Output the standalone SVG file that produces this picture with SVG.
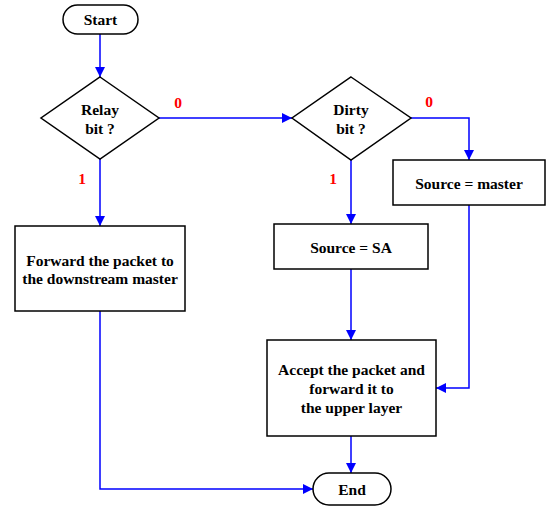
<svg xmlns="http://www.w3.org/2000/svg" width="547" height="506" viewBox="0 0 547 506">
  <style>
    .shape { fill: #ffffff; stroke: #000000; stroke-width: 1.5; }
    text { font-family: 'Liberation Serif', 'DejaVu Serif', serif; font-weight: bold; font-size: 15.5px; text-anchor: middle; dominant-baseline: central; }
    .label { fill: #000000; }
    .branch { fill: #ff0000; }
    .flow { fill: none; stroke: #0000ff; stroke-width: 1.5; marker-end: url(#arrow); }
  </style>
  <defs>
    <marker id="arrow" viewBox="0 0 10 10" refX="10" refY="5" markerWidth="10" markerHeight="10" markerUnits="userSpaceOnUse" orient="auto">
      <path d="M0,0 L10,5 L0,10 z" fill="#0000ff"/>
    </marker>
  </defs>
  <rect width="547" height="506" fill="#ffffff"/>

  <g id="connectors">
    <path class="flow" d="M100,34 V77"/>
    <path class="flow" d="M159,118 H292"/>
    <path class="flow" d="M100,159 V226"/>
    <path class="flow" d="M411,118 H469 V160"/>
    <path class="flow" d="M351,160 V224"/>
    <path class="flow" d="M351,269 V340"/>
    <path class="flow" d="M469,205 V388 H436"/>
    <path class="flow" d="M351,436 V473"/>
    <path class="flow" d="M100,311 V489 H313"/>
  </g>

  <g id="branch-labels" font-family="Liberation Serif, serif">
    <text class="branch" x="178" y="102">0</text>
    <text class="branch" x="82" y="178">1</text>
    <text class="branch" x="429" y="101">0</text>
    <text class="branch" x="333" y="178">1</text>
  </g>

  <g id="start">
    <rect class="shape" x="63" y="5" width="75" height="29" rx="14.5"/>
    <text class="label" x="100.5" y="19.5">Start</text>
  </g>

  <g id="relay-bit">
    <polygon class="shape" points="100,77 159,118 100,159 41,118"/>
    <text class="label" x="100" y="109">Relay</text>
    <text class="label" x="100" y="128">bit ?</text>
  </g>

  <g id="dirty-bit">
    <polygon class="shape" points="351,77 411,118 351,160 292,118"/>
    <text class="label" x="351" y="109">Dirty</text>
    <text class="label" x="351" y="128">bit ?</text>
  </g>

  <g id="source-master">
    <rect class="shape" x="393" y="160" width="152" height="45"/>
    <text class="label" x="469" y="183">Source = master</text>
  </g>

  <g id="source-sa">
    <rect class="shape" x="274" y="224" width="154" height="45"/>
    <text class="label" x="351" y="247">Source = SA</text>
  </g>

  <g id="forward">
    <rect class="shape" x="15" y="226" width="170" height="85"/>
    <text class="label" x="100" y="260">Forward the packet to</text>
    <text class="label" x="100" y="278">the downstream master</text>
  </g>

  <g id="accept">
    <rect class="shape" x="267" y="340" width="169" height="96"/>
    <text class="label" x="351.5" y="369">Accept the packet and</text>
    <text class="label" x="351.5" y="388">forward it to</text>
    <text class="label" x="351.5" y="407">the upper layer</text>
  </g>

  <g id="end">
    <rect class="shape" x="313" y="473" width="78" height="32" rx="16"/>
    <text class="label" x="352" y="489">End</text>
  </g>
</svg>
